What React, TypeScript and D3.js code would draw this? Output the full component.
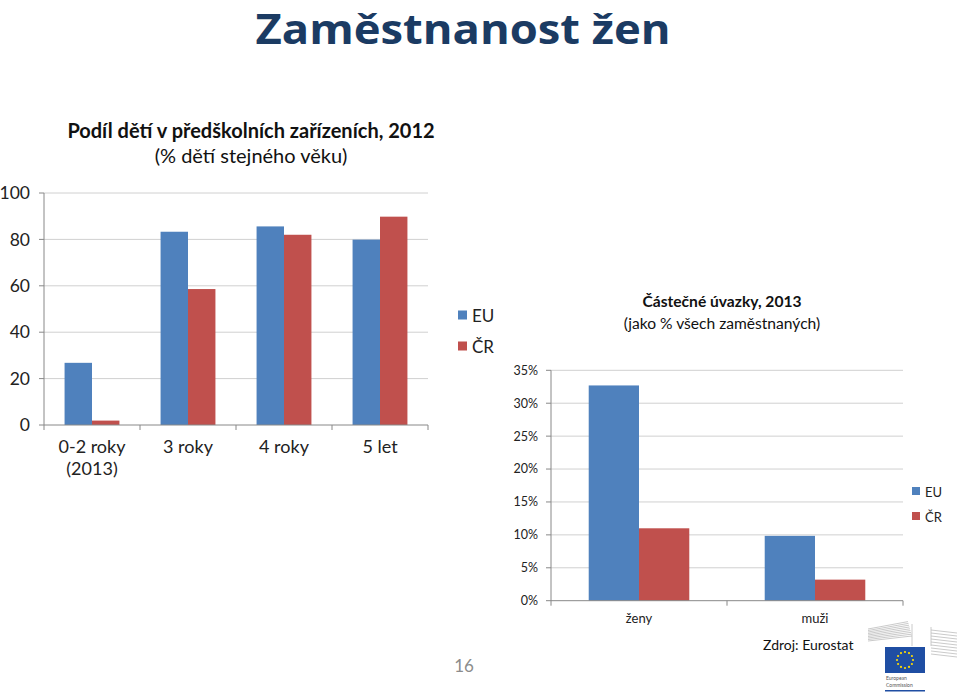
import React from "react";
import * as d3 from "d3";

const seriesNames = ["EU", "ČR"];
const seriesColors = ["#4F81BD", "#C0504D"];

const leftCategories = ["0-2 roky|(2013)", "3 roky", "4 roky", "5 let"];
const leftEU = [26.8, 83.3, 85.6, 79.9];
const leftCR = [1.9, 58.6, 82.0, 89.8];
const leftTicks = [0, 20, 40, 60, 80, 100];

const rightCategories = ["ženy", "muži"];
const rightEU = [32.7, 9.85];
const rightCR = [11.0, 3.2];
const rightTicks = [0, 5, 10, 15, 20, 25, 30, 35];

const FONT = "Lato, 'Open Sans', sans-serif";

function BarChart(props: {
  cats: string[];
  eu: number[];
  cr: number[];
  ticks: number[];
  x0: number; x1: number; y0: number; y1: number; ymax: number;
  tickFont: number; catFont: number; fmt: (v: number) => string;
  tickGap: number; catY: number; catLine: number;
}) {
  const { cats, eu, cr, ticks, x0, x1, y0, y1, ymax, tickFont, catFont, fmt, tickGap, catY, catLine } = props;
  const x = d3.scaleBand<string>().domain(cats).range([x0, x1]).paddingInner(0).paddingOuter(0);
  const xs = d3.scaleBand<string>().domain(seriesNames).range([0, x.bandwidth()]).paddingInner(0).paddingOuter(0.75);
  const y = d3.scaleLinear().domain([0, ymax]).range([y0, y1]);
  const data = [eu, cr];
  const boundaries = cats.map((c) => x(c) as number).concat([x1]);
  return (
    <g>
      {ticks.map((t) => (
        <g key={"g" + t}>
          {t > 0 && <line x1={x0} x2={x1} y1={y(t)} y2={y(t)} stroke="#d0d0d0" strokeWidth={1} />}
          <line x1={x0 - 5} x2={x0} y1={y(t)} y2={y(t)} stroke="#888" strokeWidth={1} />
          <text x={x0 - tickGap} y={y(t)} dy="0.35em" textAnchor="end" fontSize={tickFont} fill="#222" fontFamily={FONT}>
            {fmt(t)}
          </text>
        </g>
      ))}
      {data.map((vals, si) =>
        cats.map((c, ci) => (
          <rect
            key={si + "-" + ci}
            x={(x(c) as number) + (xs(seriesNames[si]) as number)}
            width={xs.bandwidth()}
            y={y(vals[ci])}
            height={y0 - y(vals[ci])}
            fill={seriesColors[si]}
          />
        ))
      )}
      <line x1={x0} x2={x0} y1={y1} y2={y0} stroke="#888" strokeWidth={1} />
      <line x1={x0} x2={x1} y1={y0} y2={y0} stroke="#888" strokeWidth={1} />
      {boundaries.map((b, i) => (
        <line key={"b" + i} x1={b} x2={b} y1={y0} y2={y0 + 5} stroke="#888" strokeWidth={1} />
      ))}
      {cats.map((c) => (
        <text key={"c" + c} x={(x(c) as number) + x.bandwidth() / 2} y={catY} textAnchor="middle" fontSize={catFont} fill="#222" fontFamily={FONT}>
          {c.split("|").map((line, li) => (
            <tspan key={li} x={(x(c) as number) + x.bandwidth() / 2} dy={li === 0 ? 0 : catLine}>
              {line}
            </tspan>
          ))}
        </text>
      ))}
    </g>
  );
}

function Legend(props: { x: number; y: number; gap: number; size: number; font: number }) {
  const { x, y, gap, size, font } = props;
  return (
    <g>
      {seriesNames.map((s, i) => (
        <g key={s}>
          <rect x={x} y={y + i * gap - size / 2 - 1} width={size} height={size} fill={seriesColors[i]} />
          <text x={x + size + 5} y={y + i * gap} dy="0.35em" fontSize={font} fill="#222" fontFamily={FONT}>
            {s}
          </text>
        </g>
      ))}
    </g>
  );
}

function Logo() {
  const left = d3.range(9);
  const stars = d3.range(12);
  return (
    <g>
      {left.map((i) => (
        <line key={"l" + i} x1={868} x2={912 - i * 0.5} y1={641 - i * 1.5} y2={636 - i * 1.8} stroke="#bdbdbd" strokeWidth={0.8} />
      ))}
      {left.map((i) => (
        <line key={"r" + i} x1={931} x2={957} y1={630 + i * 3} y2={633 + i * 3} stroke="#bdbdbd" strokeWidth={0.8} />
      ))}
      <line x1={912} x2={912} y1={624} y2={646} stroke="#bdbdbd" strokeWidth={0.8} />
      <line x1={931} x2={931} y1={627} y2={646} stroke="#bdbdbd" strokeWidth={0.8} />
      <rect x={885} y={647} width={40} height={26} fill="#1f4ea3" />
      {stars.map((i) => {
        const a = (i / 12) * Math.PI * 2;
        return <circle key={"s" + i} cx={905 + Math.cos(a) * 8} cy={660 + Math.sin(a) * 8} r={1.1} fill="#ffdd00" />;
      })}
      <text x={886} y={680} fontSize={5} fill="#555" fontFamily={FONT}>European</text>
      <text x={886} y={687} fontSize={5} fill="#555" fontFamily={FONT}>Commission</text>
      <rect x={885} y={690} width={40} height={1.5} fill="#1f4ea3" />
    </g>
  );
}

export default function App() {
  return (
    <svg width={960} height={696} style={{ position: "absolute", left: 0, top: 0, background: "#fff" }}>
      <rect width={960} height={696} fill="#fff" />
      <text x={463} y={44} textAnchor="middle" fontSize={41} fontWeight="bold" fill="#1B3B63" fontFamily="'Open Sans', sans-serif" textLength={415} lengthAdjust="spacingAndGlyphs">
        Zaměstnanost žen
      </text>

      <text x={251} y={138} textAnchor="middle" fontSize={20} fontWeight="bold" fill="#111" fontFamily={FONT}>
        Podíl dětí v předškolních zařízeních, 2012
      </text>
      <text x={251} y={163} textAnchor="middle" fontSize={20} fill="#111" fontFamily={FONT}>
        (% dětí stejného věku)
      </text>
      <BarChart
        cats={leftCategories}
        eu={leftEU}
        cr={leftCR}
        ticks={leftTicks}
        x0={44} x1={428} y0={425} y1={193} ymax={100}
        tickFont={17.5} catFont={18} fmt={(v) => String(v)} tickGap={14}
        catY={453} catLine={22}
      />
      <Legend x={458} y={316} gap={31} size={9} font={17} />

      <text x={722} y={307} textAnchor="middle" fontSize={15.6} fontWeight="bold" fill="#111" fontFamily={FONT}>
        Částečné úvazky, 2013
      </text>
      <text x={722} y={329} textAnchor="middle" fontSize={15.6} fill="#111" fontFamily={FONT}>
        (jako % všech zaměstnaných)
      </text>
      <BarChart
        cats={rightCategories}
        eu={rightEU}
        cr={rightCR}
        ticks={rightTicks}
        x0={551} x1={903} y0={600.7} y1={370.3} ymax={35}
        tickFont={12.5} catFont={13} fmt={(v) => v + "%"} tickGap={13}
        catY={623} catLine={16}
      />
      <Legend x={912} y={492} gap={25} size={8} font={13} />

      <text x={763} y={650} fontSize={14} fill="#111" fontFamily={FONT}>Zdroj: Eurostat</text>
      <text x={464} y={672} textAnchor="middle" fontSize={17} fill="#8c8c8c" fontFamily={FONT}>16</text>
      <Logo />
    </svg>
  );
}
